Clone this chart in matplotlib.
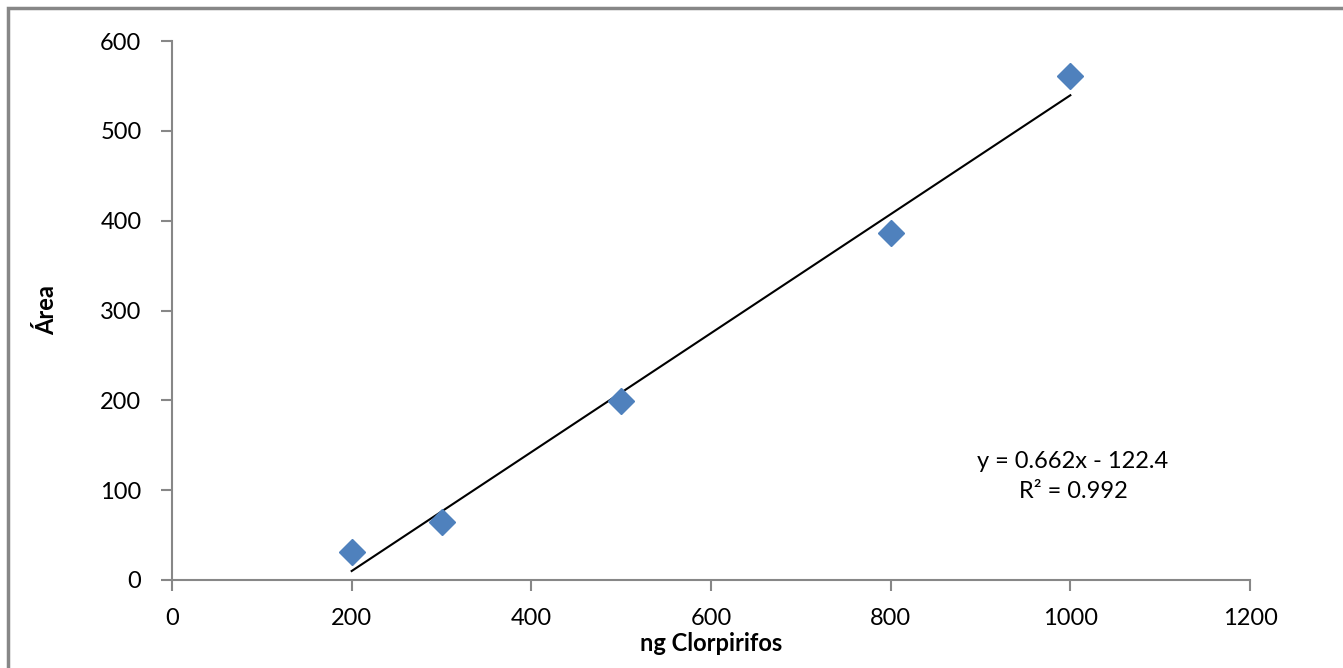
import numpy as np
import matplotlib
matplotlib.use("Agg")
import matplotlib.pyplot as plt
import matplotlib.patches as mpatches

# Dados da curva de calibração
ng_clorpirifos = [200, 300, 500, 800, 1000]
area = [31, 65, 199, 386, 561]
slope = 0.662
intercept = -122.4
r2 = 0.992

plt.rcParams['font.family'] = ['Lato', 'DejaVu Sans']

fig = plt.figure(figsize=(13.43, 6.68), dpi=100)
ax = fig.add_axes((172 / 1343, 1 - 580 / 668, (1250 - 172) / 1343, (580 - 41) / 668))

# borda do gráfico
border = mpatches.Rectangle((8 / 1343, -0.05), 1.2, 1 - 8 / 668 + 0.05,
                            transform=fig.transFigure, fill=False,
                            edgecolor='#878787', linewidth=2.5)
fig.patches.append(border)

# linha de tendência
xfit = np.array([ng_clorpirifos[0], ng_clorpirifos[-1]])
ax.plot(xfit, slope * xfit + intercept, color='black', linewidth=1.5, zorder=2)
ax.plot(ng_clorpirifos, area, linestyle='none', marker='D', markersize=13,
        color='#4F81BD', zorder=3)

ax.set_xlim(0, 1200)
ax.set_ylim(0, 600)
ax.set_xticks(range(0, 1201, 200))
ax.set_yticks(range(0, 601, 100))

for s in ['top', 'right']:
    ax.spines[s].set_visible(False)
for s in ['left', 'bottom']:
    ax.spines[s].set_color('#878787')
    ax.spines[s].set_linewidth(1.5)
ax.tick_params(axis='both', direction='out', length=8, width=1.5, color='#878787',
               labelsize=17)
ax.tick_params(axis='x', pad=12)
ax.tick_params(axis='y', pad=14)

ax.set_xlabel('ng Clorpirifos', fontsize=17, fontweight='bold', labelpad=2)
ax.set_ylabel('Área', fontsize=17, fontweight='bold', labelpad=30)

eq = f'y = {slope}x - {abs(intercept)}\nR² = {r2}'
ax.text(1003, 115, eq, fontsize=17, ha='center', va='center', linespacing=1.55)

fig.savefig('out.png', dpi=100)
